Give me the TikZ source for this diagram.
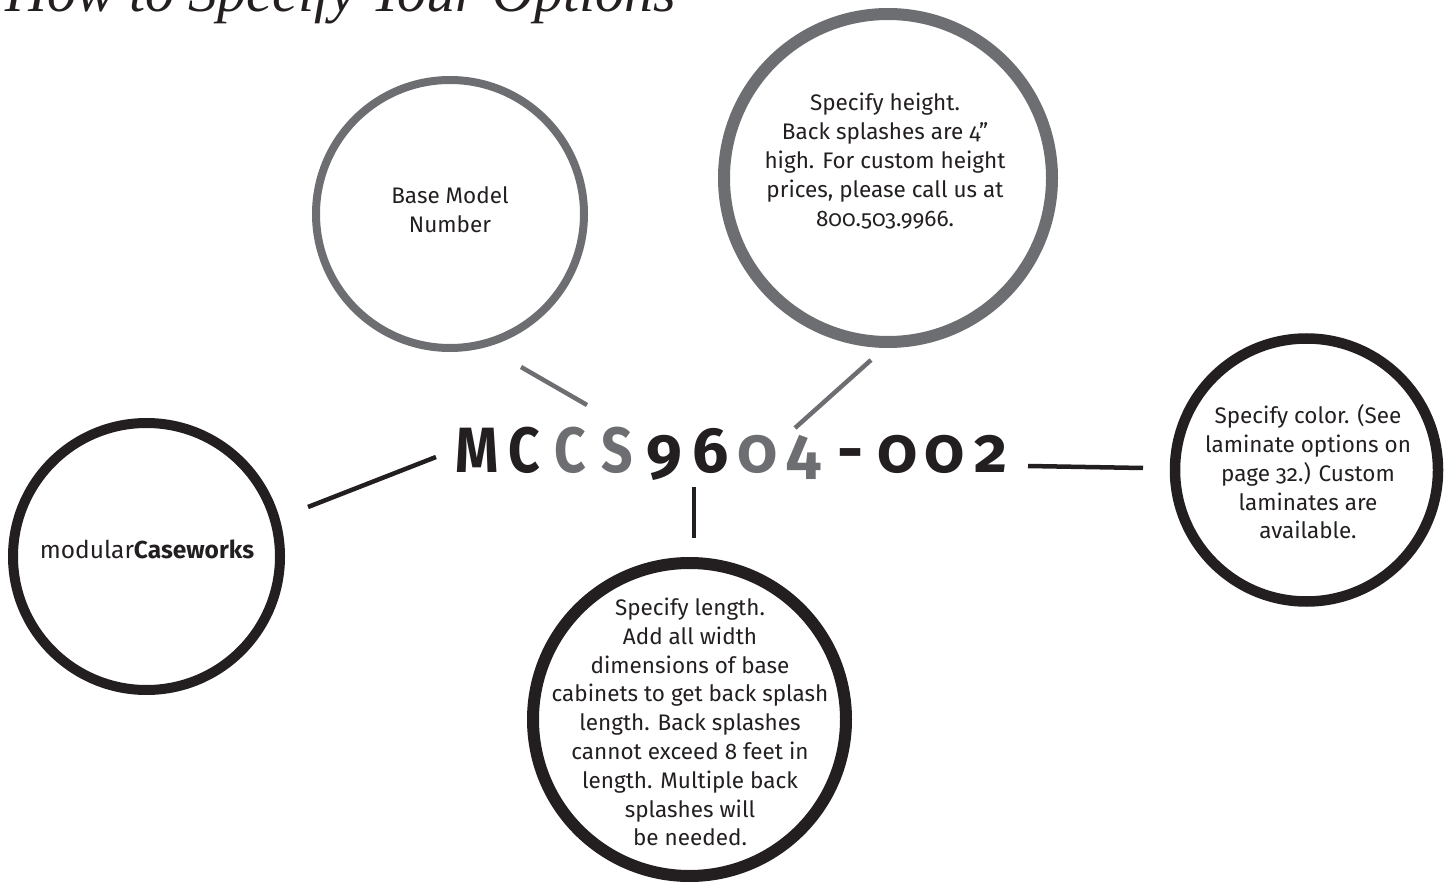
\documentclass[tikz,border=0pt]{standalone}
\usepackage{graphicx}
\usepackage{fontspec}
\setmainfont{Fira Sans}[Numbers=OldStyle]
\newfontfamily\titlefont{Liberation Serif}
\definecolor{ink}{HTML}{231F20}
\definecolor{mgray}{HTML}{6D6E71}
\begin{document}
\begin{tikzpicture}[x=1pt,y=-1pt,
  ring/.style={circle,draw,inner sep=0pt},
  body/.style={align=center,text=ink,inner sep=0pt,font=\fontsize{22.5}{28.8}\selectfont},
  lead/.style={line width=4.5pt}]
\useasboundingbox (0,0) rectangle (1449,882);
% title
\node[anchor=base west,inner sep=0pt,text=ink,font=\titlefont\itshape\fontsize{58}{60}\selectfont] (title) at (5,12) {How to Specify Your Options};
% circles
\node[ring,draw=mgray,line width=8pt,minimum size=268pt] (base) at (450,214) {};
\node[ring,draw=mgray,line width=12pt,minimum size=328pt] (height) at (888,178) {};
\node[ring,draw=ink,line width=10pt,minimum size=267pt] (brand) at (146.5,556.5) {};
\node[ring,draw=ink,line width=10.5pt,minimum size=263pt] (color) at (1306.5,470) {};
\node[ring,draw=ink,line width=12pt,minimum size=313pt] (length) at (689.5,719.5) {};
% texts
\node[body] (baseT) at (450,210) {Base Model\\Number};
\node[body] (heightT) at (885,161) {Specify height.\\Back splashes are 4”\\high. For custom height\\prices, please call us at\\800.503.9966.};
\node[body,font=\fontsize{24.5}{28.8}\selectfont] (brandT) at (147,549) {modular\textbf{Caseworks}};
\node[body] (colorT) at (1308,472) {Specify color. (See\\laminate options on\\page 32.) Custom\\laminates are\\available.};
\node[body] (lengthT) at (690,722) {Specify length.\\Add all width\\dimensions of base\\cabinets to get back splash\\length. Back splashes\\cannot exceed 8 feet in\\length. Multiple back\\splashes will\\be needed.};
% code
\newcommand{\cb}[2]{\makebox[46.7pt]{\textcolor{#1}{\scalebox{0.86}[1]{#2}}}}
\newcommand{\cd}[2]{\makebox[46.7pt]{\textcolor{#1}{#2}}}
\node[anchor=base,inner sep=0pt,font=\bfseries\fontsize{64}{66}\selectfont] (code) at (734,472)
  {\cb{ink}{M}\cb{ink}{C}\cb{mgray}{C}\cb{mgray}{S}\cd{ink}{9}\cd{ink}{6}\cd{mgray}{0}\cd{mgray}{4}\cd{ink}{-}\cd{ink}{0}\cd{ink}{0}\cd{ink}{2}};
% leader lines
\coordinate (b1) at (521,367); \coordinate (b2) at (587,405);
\coordinate (h1) at (871,360); \coordinate (h2) at (795,428);
\coordinate (m1) at (308,507); \coordinate (m2) at (436,457);
\coordinate (l1) at (694,487); \coordinate (l2) at (694,538);
\coordinate (c1) at (1028,466); \coordinate (c2) at (1143,468);
\draw[lead,draw=mgray] (b1) -- (b2);
\draw[lead,draw=mgray] (h1) -- (h2);
\draw[lead,draw=ink] (m1) -- (m2);
\draw[lead,draw=ink] (l1) -- (l2);
\draw[lead,draw=ink] (c1) -- (c2);
\end{tikzpicture}
\end{document}
